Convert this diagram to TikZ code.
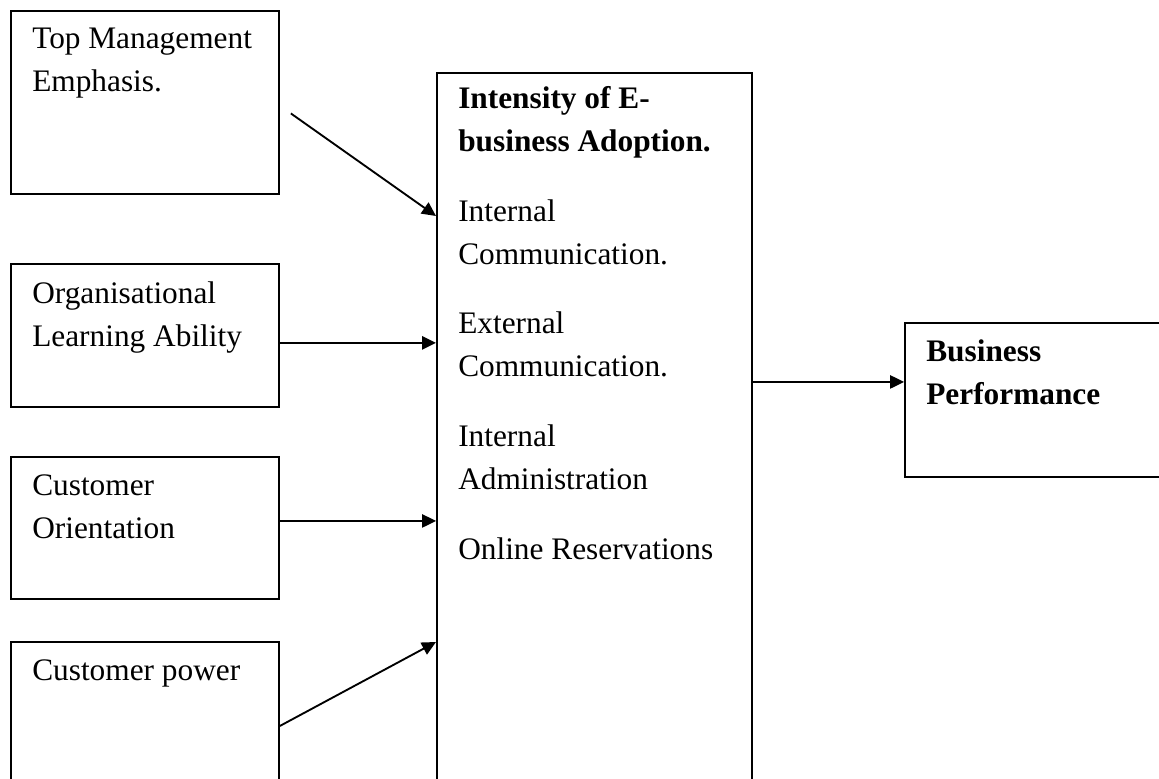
\documentclass[tikz,border=0pt]{standalone}
\usepackage{fontspec}
\setmainfont{Liberation Serif}
\usetikzlibrary{arrows.meta,positioning}

\tikzset{
  box/.style={draw, line width=1.4pt, inner sep=0pt, anchor=north west, minimum width=201pt},
  boxtext/.style={anchor=north west, align=left, inner sep=0pt, font=\fontsize{23.5}{32.25}\selectfont},
  arr/.style={-{Triangle[length=10.5pt,width=10pt]}, line width=1.4pt},
}

\begin{document}
\begin{tikzpicture}[x=0.75pt, y=-0.75pt]
        \useasboundingbox (0,0) rectangle (1159,778);
        % factor boxes on the left
        \node[box, minimum height=137.25pt] (tm) at (10,10) {};
        \node[box, minimum height=107.25pt] (ola) at (10,263) {};
        \node[box, minimum height=106.5pt] (co) at (10,456) {};
        \node[box, minimum height=119.25pt] (cp) at (10,641) {};
        % adoption box and outcome box
        \node[box, minimum width=236.25pt, minimum height=546pt] (cen) at (436,72) {};
        \node[box, minimum width=207pt, minimum height=115.5pt] (bp) at (904,322) {};

        \node[boxtext] (tm-t) at ([shift={(22,8)}]tm.north west) {\strut Top Management\\Emphasis.};
        \node[boxtext] (ola-t) at ([shift={(22,10)}]ola.north west) {\strut Organisational\\Learning Ability};
        \node[boxtext] (co-t) at ([shift={(22,9)}]co.north west) {\strut Customer\\Orientation};
        \node[boxtext] (cp-t) at ([shift={(22,9)}]cp.north west) {\strut Customer power};
        \node[boxtext] (cen-t) at ([shift={(22,6)}]cen.north west)
            {\strut\textbf{Intensity of E-}\\\textbf{business Adoption.}\\[20pt]
             Internal\\Communication.\\[20pt]
             External\\Communication.\\[20pt]
             Internal\\Administration\\[20pt]
             Online Reservations};
        \node[boxtext] (bp-t) at ([shift={(22,9)}]bp.north west) {\strut\textbf{Business}\\\textbf{Performance}};

        % connectors
        \coordinate (tm-out) at ([shift={(11,11)}]tm.east);
        \coordinate (cen-in1) at ([yshift=-108pt]cen.north west);
        \coordinate (ola-out) at ([yshift=-5.6pt]ola.east);
        \coordinate (co-out) at ([yshift=5.25pt]co.east);
        \coordinate (cp-out) at ([yshift=-3.4pt]cp.east);
        \coordinate (cen-in4) at ([yshift=-427.5pt]cen.north west);
        \coordinate (bp-in) at ([yshift=13.5pt]bp.west);
        \draw[arr] (tm-out) -- (cen-in1);
        \draw[arr] (ola-out) -- (ola-out -| cen.west);
        \draw[arr] (co-out) -- (co-out -| cen.west);
        \draw[arr] (cp-out) -- (cen-in4);
        \draw[arr] (cen.east |- bp-in) -- (bp-in);
\end{tikzpicture}
\end{document}
